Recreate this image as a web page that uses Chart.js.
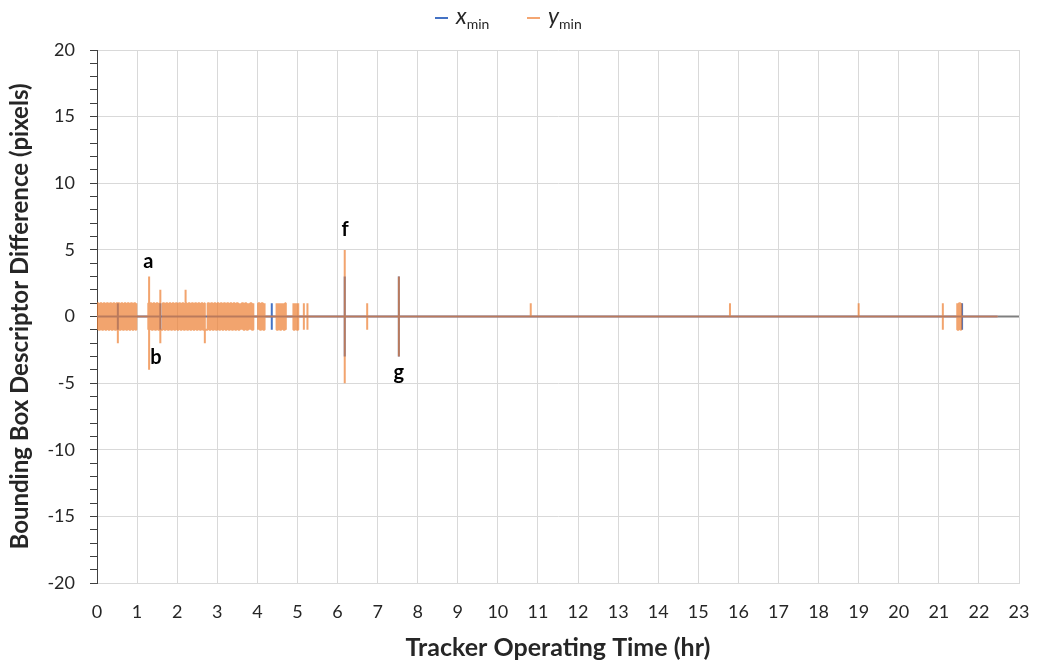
<!DOCTYPE html>
<html>
<head>
<meta charset="utf-8">
<script src="https://cdn.jsdelivr.net/npm/chart.js@4.4.1/dist/chart.umd.min.js"></script>
<style>
body { margin: 0; background: #fff; }
#wrap { position: relative; width: 1037px; height: 660px; }
.legend-item { position: absolute; top: 0; font-family: Lato, sans-serif; font-size: 23px; color: #262626; white-space: nowrap; line-height: 30px; }
.legend-item .swatch { display: inline-block; width: 13px; height: 2px; vertical-align: middle; margin-right: 8px; }
.legend-item i { font-style: italic; }
.legend-item sub { font-size: 14px; vertical-align: baseline; position: relative; top: 5px; }
</style>
</head>
<body>
<div id="wrap">
	<canvas id="chart" width="1037" height="660"></canvas>
	<div class="legend-item" style="left:435px"><span class="swatch" style="background:#4472C4"></span><i>x</i><sub>min</sub></div>
	<div class="legend-item" style="left:527px"><span class="swatch" style="background:#F4A672"></span><i>y</i><sub>min</sub></div>
</div>
<script>
// time in hours, difference in pixels
const xminTime = [0.00, 0.52, 0.52, 0.52, 0.52, 1.58, 1.58, 1.58, 1.58, 4.36, 4.36, 4.36, 4.36,
	6.18, 6.18, 6.18, 6.18, 7.53, 7.53, 7.53, 7.53, 21.58, 21.58, 21.58, 21.58, 22.47, 23.00];
const xminValue = [0, 0, 1, -1, 0, 0, 1, -1, 0, 0, 1, -1, 0,
	0, 3, -3, 0, 0, 3, -3, 0, 0, 1, -1, 0, 0, 0];

const yminTime = [
	0.00, 0.00, 0.04, 0.08, 0.12, 0.16, 0.20, 0.24, 0.28, 0.32, 0.36, 0.40, 0.44, 0.48, 0.52, 0.52,
	0.56, 0.60, 0.64, 0.68, 0.72, 0.76, 0.80, 0.84, 0.88, 0.92, 0.96, 0.98, 0.98,
	1.28, 1.28, 1.28, 1.30, 1.30, 1.30, 1.32, 1.36, 1.40, 1.44, 1.48, 1.52, 1.56, 1.58, 1.58, 1.58,
	1.60, 1.64, 1.68, 1.72, 1.76, 1.80, 1.84, 1.88, 1.92, 1.96, 2.00, 2.04, 2.08, 2.12, 2.16, 2.20, 2.21, 2.21,
	2.24, 2.28, 2.32, 2.36, 2.40, 2.44, 2.48, 2.52, 2.56, 2.60, 2.64, 2.68, 2.69, 2.69,
	2.72, 2.76, 2.80, 2.84, 2.88, 2.92, 2.96, 3.00, 3.04, 3.08, 3.12, 3.16, 3.20, 3.24,
	3.28, 3.32, 3.36, 3.40, 3.44, 3.48, 3.52, 3.56, 3.56, 3.56,
	3.61, 3.61, 3.61, 3.65, 3.69, 3.73, 3.77, 3.77, 3.77, 3.82, 3.82, 3.82, 3.86, 3.90, 3.90, 3.90,
	4.02, 4.02, 4.02, 4.06, 4.10, 4.14, 4.18, 4.18, 4.18,
	4.48, 4.48, 4.48, 4.52, 4.52, 4.52, 4.56, 4.56, 4.56, 4.60, 4.60, 4.60, 4.65, 4.65, 4.65, 4.69, 4.71, 4.71,
	4.90, 4.90, 4.90, 4.94, 4.94, 4.94, 4.98, 4.98, 4.98, 5.02, 5.02, 5.02, 5.16, 5.16, 5.16, 5.16, 5.25, 5.25, 5.25, 5.25,
	6.18, 6.18, 6.18, 6.18, 6.74, 6.74, 6.74, 6.74, 7.53, 7.53, 7.53, 7.53,
	10.82, 10.82, 10.82, 15.79, 15.79, 15.79, 19.00, 19.00, 19.00,
	21.10, 21.10, 21.10, 21.10, 21.46, 21.46, 21.46, 21.50, 21.54, 21.56, 21.56, 22.47
];
const yminValue = [
	-1, 1, -1, 1, -1, 1, -1, 1, -1, 1, -1, 1, -1, 1, -2, 1,
	-1, 1, -1, 1, -1, 1, -1, 1, -1, 1, -1, 1, 0,
	0, -1, 1, 3, -4, -1, 1, -1, 1, -1, 1, -1, 1, 2, -2, -1,
	-1, 1, -1, 1, -1, 1, -1, 1, -1, 1, -1, 1, -1, 1, -1, 1, 2, 1,
	-1, 1, -1, 1, -1, 1, -1, 1, -1, 1, -1, 1, -2, -1,
	-1, 1, -1, 1, -1, 1, -1, 1, -1, 1, -1, 1, -1, 1,
	-1, 1, -1, 1, -1, 1, -1, 1, -1, 0,
	0, -1, 1, -1, 1, -1, 1, -1, 0, 0, -1, 1, -1, 1, -1, 0,
	0, -1, 1, -1, 1, -1, 1, -1, 0,
	0, 1, -1, 1, -1, 0, 0, 1, -1, 1, -1, 0, 0, 1, -1, 1, -1, 0,
	0, 1, -1, 1, -1, 0, 0, 1, -1, 1, -1, 0, 0, 1, -1, 0, 0, 1, -1, 0,
	0, 5, -5, 0, 0, 1, -1, 0, 0, 3, -3, 0,
	0, 1, 0, 0, 1, 0, 0, 1, 0,
	0, 1, -1, 0, 0, 1, -1, 1, -1, 1, 0, 0
];

// letters marked on the plot
const noteText = ["a", "b", "f", "g"];
const noteTime = [1.28, 1.47, 6.19, 7.53];
const noteValue = [4.15, -3.1, 6.55, -4.2];

const FONT = "Lato, 'Open Sans', sans-serif";
const blue = "#4472C4";
const orange = "rgba(237, 125, 49, 0.7)";

function toPoints(times, values) {
	return times.map((t, i) => ({ x: t, y: values[i] }));
}

const notesPlugin = {
	id: "notes",
	afterDatasetsDraw(chart) {
		const ctx = chart.ctx;
		const xs = chart.scales.x;
		const ys = chart.scales.y;
		ctx.save();
		ctx.font = "bold 20px " + FONT;
		ctx.fillStyle = "#000";
		ctx.textAlign = "center";
		ctx.textBaseline = "middle";
		noteText.forEach((txt, i) => {
			ctx.fillText(txt, xs.getPixelForValue(noteTime[i]), ys.getPixelForValue(noteValue[i]));
		});
		ctx.restore();
	},
};

new Chart(document.getElementById("chart"), {
	type: "line",
	data: {
		datasets: [
			{
				label: "ymin",
				data: toPoints(yminTime, yminValue),
				borderColor: orange,
				borderWidth: 2,
				borderJoinStyle: "bevel",
				stepped: true,
				pointRadius: 0,
				fill: false,
			},
			{
				label: "xmin",
				data: toPoints(xminTime, xminValue),
				borderColor: blue,
				borderWidth: 2,
				borderJoinStyle: "bevel",
				pointRadius: 0,
				tension: 0,
				fill: false,
				segment: {
					borderColor: (c) => (c.p0.parsed.x >= 22.47 ? "#7f7f7f" : blue),
				},
			},
		],
	},
	options: {
		responsive: false,
		animation: false,
		events: [],
		layout: {
			padding: { top: 50, right: 18, bottom: 0, left: 0 },
		},
		plugins: {
			legend: { display: false },
			tooltip: { enabled: false },
		},
		scales: {
			x: {
				type: "linear",
				min: 0,
				max: 23,
				afterFit: (scale) => {
					scale.height = 77;
					scale.paddingLeft = 0;
					scale.paddingRight = 0;
				},
				grid: {
					color: "#d9d9d9",
					drawTicks: false,
				},
				border: { color: "#d9d9d9" },
				ticks: {
					stepSize: 1,
					autoSkip: false,
					maxRotation: 0,
					padding: 18,
					color: "#262626",
					font: { family: FONT, size: 18 },
				},
				title: {
					display: true,
					text: "Tracker Operating Time (hr)",
					color: "#262626",
					font: { family: FONT, size: 25, weight: "bold", lineHeight: 1 },
					padding: { top: 1, bottom: 0 },
				},
			},
			y: {
				min: -20,
				max: 20,
				afterFit: (scale) => {
					scale.width = 97;
				},
				grid: {
					color: (c) => (c.tick && c.tick.value % 5 === 0 ? "#d9d9d9" : "rgba(0,0,0,0)"),
					tickColor: "#404040",
					tickLength: 7,
				},
				border: { color: "#404040" },
				ticks: {
					stepSize: 1,
					autoSkip: false,
					padding: 15,
					color: "#262626",
					font: { family: FONT, size: 18 },
					callback: (value) => (value % 5 === 0 ? String(value) : ""),
				},
				title: {
					display: true,
					text: "Bounding Box Descriptor Difference (pixels)",
					color: "#262626",
					font: { family: FONT, size: 24, weight: "bold", lineHeight: 1 },
					padding: { top: 8, bottom: 0 },
				},
			},
		},
	},
	plugins: [notesPlugin],
});
</script>
</body>
</html>
